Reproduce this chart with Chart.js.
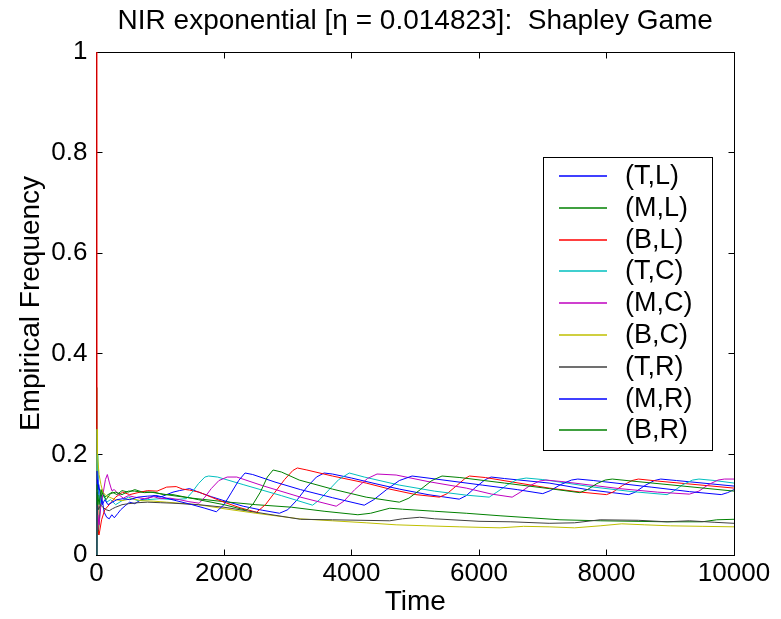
<!DOCTYPE html>
<html>
<head>
<meta charset="utf-8">
<style>
  html, body { margin: 0; padding: 0; background: #fff; }
  canvas { display: block; }
</style>
<script src="https://cdn.jsdelivr.net/npm/chart.js@4.4.1/dist/chart.umd.min.js"></script>
</head>
<body>
<canvas id="nirChart" width="781" height="619" style="width:781px;height:619px"></canvas>
<script>
//-------------------data (time, empirical frequency)--------------------
const seriesLabels = ["(T,L)", "(M,L)", "(B,L)", "(T,C)", "(M,C)", "(B,C)", "(T,R)", "(M,R)", "(B,R)"];
const seriesColors = ["#0000ff", "#008000", "#ff0000", "#00bfbf", "#bf00bf", "#bfbf00", "#404040", "#0000ff", "#008000"];

const xTicks = [0, 2000, 4000, 6000, 8000, 10000];
const yTicks = [0, 0.2, 0.4, 0.6, 0.8, 1];
const yTickLabels = ["0", "0.2", "0.4", "0.6", "0.8", "1"];

const seriesTL = [[1,0],[2,0],[4,0.25],[6,0.167],[12,0.17],[20,0.15],[35,0.12],[60,0.1],[90,0.11],[120,0.085],[160,0.075],[200,0.072],[240,0.08],[280,0.074],[330,0.082],[380,0.09],[450,0.098],[520,0.105],[600,0.102],[700,0.11],[800,0.112],[900,0.118],[1000,0.115],[1100,0.12],[1200,0.125],[1300,0.128],[1460,0.132],[1600,0.125],[1800,0.116],[2000,0.108],[2300,0.097],[2600,0.089],[2870,0.083],[3000,0.09],[3150,0.11],[3300,0.135],[3450,0.155],[3570,0.163],[3700,0.161],[4000,0.153],[4400,0.141],[4750,0.131],[5200,0.12],[5690,0.111],[5800,0.118],[5950,0.135],[6100,0.15],[6190,0.155],[6400,0.152],[7100,0.143],[7700,0.13],[8350,0.12],[8450,0.125],[8600,0.138],[8750,0.148],[8850,0.151],[9100,0.148],[10000,0.137]];

const seriesML = [[1,0],[2,0],[3,0.333],[4,0.25],[6,0.167],[10,0.1],[16,0.06],[25,0.04],[40,0.06],[60,0.1],[90,0.13],[130,0.115],[180,0.12],[250,0.125],[320,0.12],[400,0.128],[500,0.125],[600,0.13],[700,0.126],[850,0.125],[1000,0.122],[1200,0.118],[1500,0.113],[2000,0.106],[2500,0.1],[3060,0.095],[3570,0.087],[4100,0.08],[4300,0.083],[4600,0.093],[4800,0.091],[5300,0.087],[5800,0.083],[6330,0.078],[6800,0.074],[7270,0.07],[7900,0.068],[8950,0.066],[9500,0.066],[9730,0.07],[10000,0.071]];

const seriesBL = [[1,1],[2,0.5],[3,0.333],[4,0.25],[6,0.167],[10,0.1],[20,0.05],[40,0.04],[80,0.07],[130,0.09],[200,0.1],[300,0.115],[410,0.125],[520,0.12],[650,0.124],[800,0.128],[950,0.127],[1100,0.135],[1250,0.136],[1350,0.131],[1460,0.129],[1610,0.125],[1800,0.115],[2000,0.105],[2250,0.094],[2510,0.085],[2650,0.1],[2800,0.125],[2950,0.15],[3080,0.168],[3150,0.173],[3300,0.169],[3700,0.157],[4230,0.143],[4600,0.131],[5010,0.12],[5380,0.115],[5500,0.122],[5650,0.138],[5780,0.152],[5850,0.157],[6100,0.154],[7100,0.133],[7600,0.125],[8000,0.12],[8100,0.125],[8250,0.138],[8400,0.148],[8500,0.151],[8800,0.147],[10000,0.133]];

const seriesTC = [[1,0],[3,0],[4,0.25],[6,0.167],[10,0.2],[20,0.15],[40,0.12],[70,0.1],[110,0.12],[160,0.105],[220,0.11],[300,0.1],[400,0.108],[500,0.115],[650,0.108],[800,0.11],[1000,0.112],[1200,0.11],[1410,0.112],[1500,0.125],[1600,0.142],[1700,0.155],[1760,0.157],[1900,0.155],[2300,0.14],[2900,0.118],[3390,0.099],[3500,0.11],[3650,0.13],[3800,0.15],[3965,0.163],[4200,0.155],[4750,0.139],[5300,0.127],[5800,0.119],[6160,0.115],[6280,0.125],[6450,0.14],[6600,0.15],[6740,0.153],[7000,0.15],[7800,0.135],[8400,0.126],[8950,0.12],[9050,0.127],[9200,0.14],[9350,0.149],[9450,0.151],[9700,0.148],[10000,0.143]];

const seriesMC = [[1,0],[4,0],[6,0.1],[10,0.05],[20,0.08],[40,0.06],[70,0.1],[100,0.12],[140,0.15],[170,0.16],[200,0.145],[240,0.128],[280,0.13],[350,0.12],[420,0.113],[500,0.118],[600,0.115],[750,0.112],[900,0.116],[1000,0.112],[1150,0.113],[1300,0.11],[1450,0.106],[1610,0.103],[1700,0.115],[1800,0.132],[1920,0.148],[2050,0.155],[2200,0.155],[2600,0.138],[3200,0.115],[3760,0.097],[3880,0.107],[4050,0.13],[4250,0.152],[4400,0.161],[4700,0.159],[5200,0.146],[5800,0.133],[6200,0.121],[6520,0.115],[6650,0.125],[6800,0.138],[6950,0.147],[7050,0.149],[7300,0.146],[8200,0.132],[8800,0.125],[9300,0.121],[9450,0.127],[9600,0.14],[9750,0.149],[9850,0.151],[10000,0.151]];

const seriesBC = [[1,0],[4,0],[5,0.2],[8,0.25],[12,0.22],[20,0.2],[40,0.16],[70,0.14],[100,0.125],[150,0.118],[200,0.115],[300,0.11],[400,0.108],[550,0.112],[700,0.108],[900,0.107],[1100,0.105],[1300,0.103],[1600,0.1],[2000,0.092],[2500,0.083],[3180,0.072],[3700,0.068],[4230,0.064],[4700,0.06],[5170,0.058],[5700,0.056],[6330,0.054],[6700,0.057],[7100,0.056],[7500,0.054],[7900,0.058],[8240,0.062],[8600,0.06],[9000,0.058],[9500,0.057],[10000,0.056]];

const seriesTR = [[1,0],[5,0],[8,0.125],[12,0.08],[20,0.1],[35,0.09],[60,0.1],[100,0.095],[150,0.09],[200,0.088],[250,0.092],[300,0.095],[400,0.1],[500,0.102],[650,0.104],[800,0.105],[1000,0.104],[1200,0.103],[1600,0.1],[2000,0.095],[2500,0.085],[3200,0.071],[3700,0.07],[4600,0.068],[4800,0.072],[5070,0.075],[5300,0.072],[6000,0.067],[6500,0.066],[7100,0.063],[7500,0.064],[7900,0.07],[8500,0.069],[8950,0.066],[9300,0.068],[9700,0.065],[10000,0.063]];

const seriesMR = [[1,0],[5,0],[6,0.167],[10,0.15],[20,0.13],[35,0.14],[60,0.12],[90,0.1],[130,0.11],[180,0.1],[250,0.105],[320,0.11],[420,0.112],[520,0.11],[650,0.115],[800,0.117],[950,0.118],[1100,0.113],[1250,0.108],[1500,0.1],[1700,0.093],[1880,0.086],[2000,0.1],[2120,0.125],[2230,0.148],[2330,0.163],[2450,0.16],[2800,0.145],[3200,0.13],[3700,0.114],[4200,0.099],[4350,0.11],[4550,0.13],[4750,0.148],[4950,0.157],[5200,0.153],[6050,0.139],[6600,0.13],[7000,0.122],[7120,0.128],[7280,0.14],[7450,0.149],[7550,0.151],[7800,0.148],[8700,0.135],[9300,0.126],[9800,0.12],[9900,0.124],[10000,0.13]];

const seriesBR = [[1,0],[5,0],[7,0.14],[10,0.1],[20,0.12],[40,0.1],[70,0.13],[100,0.12],[150,0.11],[220,0.122],[300,0.125],[400,0.12],[500,0.127],[600,0.127],[750,0.124],[900,0.125],[1050,0.12],[1200,0.12],[1400,0.115],[1600,0.11],[2000,0.1],[2350,0.089],[2450,0.1],[2570,0.125],[2680,0.155],[2770,0.169],[2900,0.165],[3180,0.149],[3700,0.131],[4230,0.115],[4750,0.105],[4900,0.113],[5080,0.13],[5260,0.148],[5420,0.157],[5700,0.154],[6400,0.143],[7100,0.132],[7580,0.124],[7700,0.13],[7850,0.142],[7980,0.149],[8090,0.151],[8400,0.147],[10000,0.127]];

const allSeries = [seriesTL, seriesML, seriesBL, seriesTC, seriesMC, seriesBC, seriesTR, seriesMR, seriesBR];
//-------------------data--------------------

const fontFamily = "'Liberation Sans', Arial, Helvetica, sans-serif";
const tickSize = 26;
const labelSize = 28;

// matlab style box, inward ticks, title and legend
const matlabLook = {
  id: "matlabLook",
  beforeDatasetsDraw(chart) {
    const { ctx, chartArea: a, scales } = chart;
    const left = Math.floor(a.left) + 0.5;
    const right = Math.floor(a.right) + 0.5;
    const top = Math.floor(a.top) + 0.5;
    const bottom = Math.floor(a.bottom) + 0.5;
    ctx.save();
    ctx.strokeStyle = "#000";
    ctx.lineWidth = 1;
    ctx.strokeRect(left, top, right - left, bottom - top);
    ctx.beginPath();
    xTicks.forEach((v) => {
      const px = Math.floor(scales.x.getPixelForValue(v)) + 0.5;
      ctx.moveTo(px, bottom); ctx.lineTo(px, bottom - 6);
      ctx.moveTo(px, top); ctx.lineTo(px, top + 6);
    });
    yTicks.forEach((v) => {
      const py = Math.floor(scales.y.getPixelForValue(v)) + 0.5;
      ctx.moveTo(left, py); ctx.lineTo(left + 6, py);
      ctx.moveTo(right, py); ctx.lineTo(right - 6, py);
    });
    ctx.stroke();
    ctx.restore();
  },
  afterDraw(chart) {
    const { ctx, chartArea: a } = chart;
    ctx.save();
    // title
    ctx.fillStyle = "#000";
    ctx.font = labelSize + "px " + fontFamily;
    ctx.textAlign = "center";
    ctx.textBaseline = "middle";
    ctx.fillText("NIR exponential [\u03b7 = 0.014823]:  Shapley Game", (a.left + a.right) / 2, 21);

    // legend
    const bx = 543, by = 157, bw = 169, bh = 293;
    ctx.fillStyle = "#fff";
    ctx.fillRect(bx, by, bw, bh);
    ctx.strokeStyle = "#000";
    ctx.lineWidth = 1;
    ctx.strokeRect(bx + 0.5, by + 0.5, bw, bh);
    ctx.textAlign = "left";
    ctx.font = "27px " + fontFamily;
    chart.data.datasets.forEach((ds, i) => {
      const y = Math.round(176 + i * 31.8);
      ctx.strokeStyle = ds.borderColor;
      ctx.lineWidth = 1.3;
      ctx.beginPath();
      ctx.moveTo(559, y);
      ctx.lineTo(607, y);
      ctx.stroke();
      ctx.fillStyle = "#000";
      ctx.fillText(ds.label, 625, y + 1);
    });
    ctx.restore();
  },
};

const chartInstance = new Chart(document.getElementById("nirChart"), {
  type: "line",
  data: {
    datasets: allSeries.map((pts, i) => ({
      label: seriesLabels[i],
      data: pts,
      borderColor: seriesColors[i],
      borderWidth: 1,
      pointRadius: 0,
      tension: 0,
      fill: false,
      order: allSeries.length - i,
    })),
  },
  options: {
    responsive: false,
    animation: false,
    devicePixelRatio: 1,
    layout: { padding: { top: 52, right: 47, left: 0, bottom: 0 } },
    plugins: {
      legend: { display: false },
      tooltip: { enabled: false },
      title: { display: false },
    },
    scales: {
      x: {
        type: "linear",
        min: 0,
        max: 10000,
        afterBuildTicks: (s) => { s.ticks = xTicks.map((v) => ({ value: v })); },
        afterFit: (s) => { s.height = 64; },
        grid: { display: false, drawTicks: false },
        border: { display: false },
        ticks: {
          color: "#000",
          font: { family: fontFamily, size: tickSize },
          padding: 3,
          maxRotation: 0,
          autoSkip: false,
          callback: (v) => String(v),
        },
        title: {
          display: true,
          text: "Time",
          color: "#000",
          font: { family: fontFamily, size: labelSize },
          padding: { top: 0, bottom: 0 },
        },
      },
      y: {
        type: "linear",
        min: 0,
        max: 1,
        afterBuildTicks: (s) => { s.ticks = yTicks.map((v) => ({ value: v })); },
        afterFit: (s) => { s.width = 96.5; },
        grid: { display: false, drawTicks: false },
        border: { display: false },
        ticks: {
          color: "#000",
          font: { family: fontFamily, size: tickSize },
          padding: 9,
          autoSkip: false,
          callback: (v, i) => yTickLabels[i],
        },
        title: {
          display: true,
          text: "Empirical Frequency",
          color: "#000",
          font: { family: fontFamily, size: labelSize },
          padding: { top: 14, bottom: 0 },
        },
      },
    },
  },
  plugins: [matlabLook],
});
</script>
</body>
</html>
